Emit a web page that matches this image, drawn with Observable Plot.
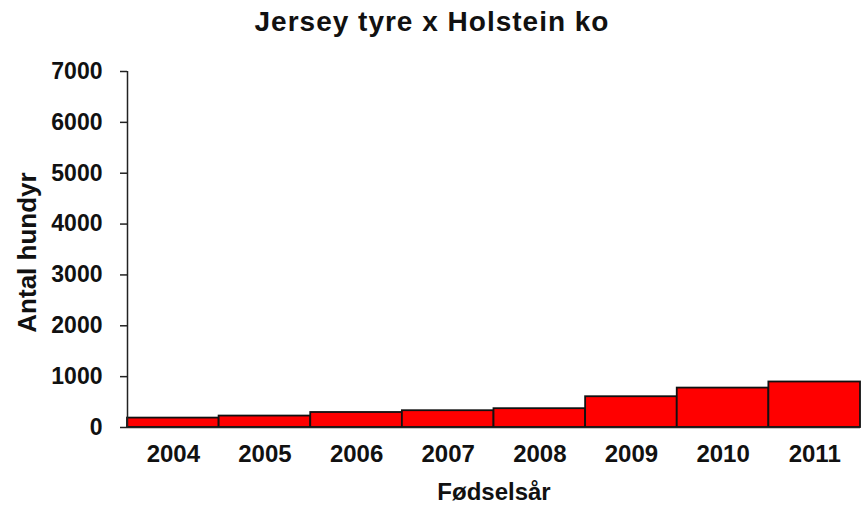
<!DOCTYPE html>
<html>
<head>
<meta charset="utf-8">
<script src="https://cdn.jsdelivr.net/npm/d3@7"></script>
<script src="https://cdn.jsdelivr.net/npm/@observablehq/plot@0.6"></script>
<style>
  html, body { margin: 0; padding: 0; background: #fff; }
  #chart svg { display: block; }
</style>
</head>
<body>
<div id="chart"></div>
<script>
const title = "Jersey tyre x Holstein ko";
const yLabel = "Antal hundyr";
const xLabel = "Fødselsår";
const years = [2004, 2005, 2006, 2007, 2008, 2009, 2010, 2011];
const values = [185, 225, 295, 330, 370, 605, 775, 895];
const yTicks = [0, 1000, 2000, 3000, 4000, 5000, 6000, 7000];

const data = years.map((year, i) => ({year, value: values[i]}));
const font = "'Liberation Sans', Arial, sans-serif";

const chart = Plot.plot({
  width: 868,
  height: 505,
  marginLeft: 127,
  marginRight: 8,
  marginTop: 71,
  marginBottom: 78,
  style: {fontFamily: font, background: "#fff", color: "#111"},
  x: {type: "linear", domain: [years[0] - 0.5, years[years.length - 1] + 0.5]},
  y: {domain: [0, 7000]},
  marks: [
    Plot.rectY(data, {
      x1: d => d.year - 0.5,
      x2: d => d.year + 0.5,
      y: "value",
      fill: "#ff0000",
      stroke: "#111",
      strokeWidth: 1.8
    }),
    Plot.ruleY([0], {stroke: "#222", strokeWidth: 1.5}),
    Plot.ruleX([years[0] - 0.5], {stroke: "#222", strokeWidth: 1.5}),
    Plot.axisY({
      ticks: yTicks,
      tickSize: 7,
      tickPadding: 18,
      tickFormat: d => String(d),
      label: null,
      fontSize: 23,
      fontWeight: "bold",
      stroke: "#222",
      strokeWidth: 1.5
    }),
    Plot.axisX({
      ticks: years,
      tickSize: 0,
      tickPadding: 17,
      tickFormat: d => String(d),
      label: null,
      fontSize: 24,
      fontWeight: "bold"
    }),
    Plot.text([yLabel], {
      frameAnchor: "left",
      dx: -100,
      dy: 3,
      rotate: -90,
      textAnchor: "middle",
      lineAnchor: "middle",
      fontSize: 26,
      fontWeight: "bold",
      fill: "#111"
    }),
    Plot.text([xLabel], {
      frameAnchor: "bottom",
      dy: 65,
      textAnchor: "middle",
      lineAnchor: "middle",
      fontSize: 24,
      fontWeight: "bold",
      fill: "#111"
    }),
    Plot.text([title], {
      frameAnchor: "top",
      dx: -62,
      dy: -49,
      textAnchor: "middle",
      lineAnchor: "middle",
      fontSize: 28,
      fontWeight: "bold",
      fill: "#111"
    })
  ]
});
document.getElementById("chart").appendChild(chart);
d3.select(chart).selectAll("text").filter(function() { return this.textContent === title; }).style("letter-spacing", "1px");
</script>
</body>
</html>
